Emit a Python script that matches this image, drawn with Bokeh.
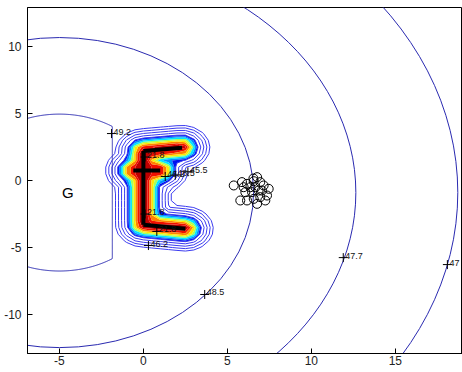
import numpy as np
from bokeh.plotting import figure
from bokeh.models import FixedTicker, Range1d
from bokeh.core.properties import value
from bokeh.embed import file_html
from bokeh.resources import INLINE

# ---- data ----
# contour rings around the source "G"
ring_cx = -5.0
ring_cy = -0.9
ring_radii = [5.85, 11.56, 17.65, 23.72]
ring_labels = ["49.2", "48.5", "47.7", "47"]
inner_cut_x = -1.85          # the 49.2 ring is cut by the C-shaped region here

# C-shaped structure (segments)
seg_x0 = [0.0, 0.0, 0.0, -0.6]
seg_y0 = [2.2, 2.2, -3.3, 0.75]
seg_x1 = [2.3, 0.0, 2.5, 1.0]
seg_y1 = [2.45, -3.3, -3.6, 0.75]

# filled bands (distance from structure) and their colours
band_levels = [0.0, 0.24, 0.36, 0.48, 0.58, 0.68, 0.78, 0.88, 0.96]
band_colors = ["#c00000", "#f01000", "#ff8000", "#ffe800", "#a8ff58",
               "#00e8ff", "#0090ff", "#0010f0"]
line_levels = [0.96, 1.12, 1.3, 1.48, 1.66]

# contour labels (clabel with '+')
label_text = ["49.2", "48.5", "47.7", "47", "45.5", "21.8", "21.8", "46.2",
              "21.8", "46.2", "48.5"]
label_x = [-1.9, 3.65, 11.9, 18.1, 2.65, 0.1, 0.8, 0.3, 0.1, 1.3, 1.9]
label_y = [3.5, -8.5, -5.75, -6.27, 0.65, -2.5, -3.8, -4.85, 1.75, 0.3, 0.4]

# cluster of open circles
pts_x = [5.38, 5.87, 6.17, 6.57, 6.96, 7.16, 7.46, 6.86, 6.47, 6.07, 5.77,
         6.17, 6.57, 6.96, 7.36, 6.77, 6.37, 5.97, 6.67, 7.26, 7.06, 6.77, 6.55]
pts_y = [-0.37, -0.12, -0.25, -0.05, -0.12, -0.37, -0.62, -0.75, -0.87, -0.87,
         -1.49, -1.49, -1.37, -1.24, -1.12, -1.74, -0.5, -0.5, -0.5, -1.49,
         -0.75, 0.25, 0.15]

source_label = "G"
source_x, source_y = -4.5, -0.9

x_ticks = [-5, 0, 5, 10, 15]
y_ticks = [-10, -5, 0, 5, 10]

# ---- figure ----
p = figure(width=462, height=372, x_range=Range1d(-6.9, 19.0),
           y_range=Range1d(-12.9, 12.9), output_backend="svg",
           toolbar_location=None, min_border_left=27, min_border_right=0,
           min_border_top=7, min_border_bottom=19)
p.grid.visible = False
p.outline_line_color = "black"
p.background_fill_color = "white"
p.border_fill_color = "white"

for ax, ticks in ((p.xaxis[0], x_ticks), (p.yaxis[0], y_ticks)):
    ax.ticker = FixedTicker(ticks=ticks)
    ax.major_label_overrides = {t: str(t) for t in ticks}
    ax.major_tick_in = 5
    ax.major_tick_out = 0
    ax.minor_tick_line_color = None
    ax.major_label_text_font = "Liberation Sans"
    ax.major_label_text_font_size = "12px"
    ax.major_label_text_color = "#222222"
    ax.axis_line_color = "black"
p.xaxis.major_label_standoff = 2
p.yaxis.major_label_standoff = 6

# C-region field: distance to the structure, on a coarse grid
def seg_dist(X, Y, x0, y0, x1, y1):
    vx, vy = x1 - x0, y1 - y0
    t = np.clip(((X - x0) * vx + (Y - y0) * vy) / (vx * vx + vy * vy), 0, 1)
    return np.hypot(X - x0 - t * vx, Y - y0 - t * vy)

cx_grid = np.arange(-3.5, 5.5001, 0.5)
cy_grid = np.arange(-7.0, 7.0001, 0.5)
CX, CY = np.meshgrid(cx_grid, cy_grid)
D = np.min([seg_dist(CX, CY, a, b, c, d)
            for a, b, c, d in zip(seg_x0, seg_y0, seg_x1, seg_y1)], axis=0)

p.contour(x=cx_grid, y=cy_grid, z=D, levels=band_levels,
          fill_color=band_colors, line_color=None)
p.contour(x=cx_grid, y=cy_grid, z=D, levels=line_levels,
          line_color="#3c3cf0", line_width=1)

# inner ring (49.2) cut on its right side
gx = np.arange(-7.2, 1.0, 0.04)
gy = np.arange(-8.0, 6.0, 0.04)
GX, GY = np.meshgrid(gx, gy)
phi = np.maximum(np.hypot(GX - ring_cx, GY - ring_cy) - ring_radii[0],
                 GX - inner_cut_x)
p.contour(x=gx, y=gy, z=phi, levels=[0.0], line_color="#2a2ab0", line_width=1)

# outer rings
n_out = len(ring_radii) - 1
p.ellipse(x=[ring_cx] * n_out, y=[ring_cy] * n_out,
          width=[2 * r for r in ring_radii[1:]],
          height=[2 * r for r in ring_radii[1:]],
          fill_color=None, line_color="#2a2ab0", line_width=1)

# structure
p.segment(x0=seg_x0, y0=seg_y0, x1=seg_x1, y1=seg_y1,
          line_color="black", line_width=4)

# circles cluster
p.scatter(x=pts_x, y=pts_y, marker="circle", size=9, fill_color=None,
          line_color="black", line_width=1)

# labels
p.scatter(x=label_x, y=label_y, marker="cross", size=9, line_color="black",
          line_width=1)
p.text(x=label_x, y=label_y, text=label_text, text_font=value("Liberation Sans"),
       text_font_size="9px", text_color="#111111", x_offset=2, y_offset=-2,
       text_baseline="alphabetic", text_align="left")

p.text(x=[source_x], y=[source_y], text=[source_label],
       text_font=value("Liberation Sans"), text_font_size="15px",
       text_color="black", text_align="center", text_baseline="middle")

open("out.html", "w").write(file_html(p, INLINE))
